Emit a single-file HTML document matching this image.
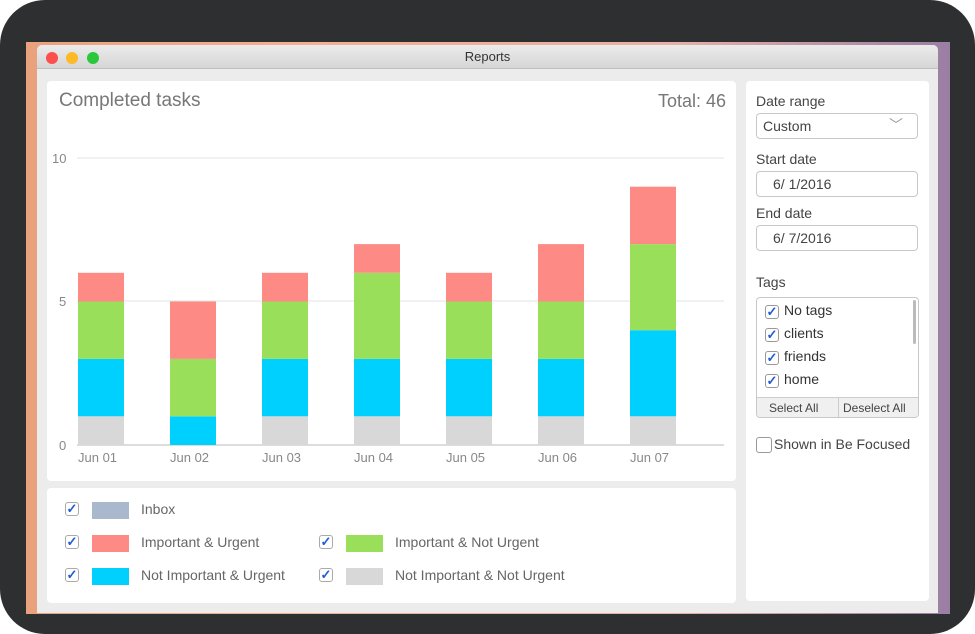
<!DOCTYPE html>
<html><head><style>
*{box-sizing:border-box;margin:0;padding:0}
body{width:975px;height:634px;background:#fff;font-family:"Liberation Sans",sans-serif;position:relative;overflow:hidden}
.bezel{position:absolute;left:0;top:0;width:975px;height:634px;background:#2e2f31;border-radius:45px}
.bg{position:absolute;left:26px;top:42px;width:924px;height:572px;background:linear-gradient(90deg,#e9a27c,#f2b093 30%,#e8b0a8 70%,#9a7ea4)}
.win{position:absolute;left:37px;top:45px;width:901px;height:568px;background:#ececec;border-radius:5px 5px 0 0;overflow:hidden}
.tb{height:24px;background:linear-gradient(#ebebeb,#d6d6d6);border-bottom:1px solid #c0c0c0;text-align:center;font-size:13px;line-height:24px;color:#333}
.dot{position:absolute;top:7px;width:12px;height:12px;border-radius:50%}
.panel{position:absolute;background:#fff;border-radius:4px}
.t{position:absolute;white-space:nowrap}
.cb{position:absolute;width:14px;height:14px;border:1px solid #aaa;border-radius:3px;background:#fff;color:#1f5bd6;font-size:13px;line-height:12px;text-align:center;font-weight:bold}
.field{position:absolute;left:10px;width:162px;height:26px;border:1px solid #c8c8c8;border-radius:4px;background:#fff;font-size:14px;color:#444;line-height:24px;padding-left:6px}
</style></head><body>
<div class="bezel"></div>
<div class="bg"></div>
<div class="win">
<div class="tb">Reports</div>
<div class="dot" style="left:9px;background:#fc4f4c"></div>
<div class="dot" style="left:29px;background:#fdb926"></div>
<div class="dot" style="left:50px;background:#2ac73b"></div>

<div class="panel" style="left:10px;top:36px;width:689px;height:400px">
<div class="t" style="left:12px;top:9px;font-size:19px;color:#777">Completed tasks</div>
<div class="t" style="right:10px;top:10px;font-size:18px;color:#777">Total: 46</div>
<svg width="689" height="400" style="position:absolute;left:0;top:0">
<g stroke="#e3e3e3"><line x1="30" x2="677" y1="77" y2="77"/><line x1="30" x2="677" y1="220" y2="220"/></g>
<line x1="30" x2="677" y1="364" y2="364" stroke="#bbb"/>
<g font-size="13" fill="#888" font-family="Liberation Sans"><text x="5" y="82">10</text><text x="12" y="225">5</text><text x="12" y="369">0</text>
<text x="31" y="381">Jun 01</text><text x="123" y="381">Jun 02</text><text x="215" y="381">Jun 03</text><text x="307" y="381">Jun 04</text><text x="399" y="381">Jun 05</text><text x="491" y="381">Jun 06</text><text x="583" y="381">Jun 07</text></g>
<g id="b"></g>
</svg>
</div>

<div class="panel" style="left:10px;top:443px;width:689px;height:115px">
<div class="cb" style="left:18px;top:14px">✓</div><div style="position:absolute;left:45px;top:14px;width:37px;height:17px;background:#a9b8cd"></div><div class="t" style="left:94px;top:13px;font-size:14px;color:#666">Inbox</div>
<div class="cb" style="left:18px;top:47px">✓</div><div style="position:absolute;left:45px;top:47px;width:37px;height:17px;background:#fe8a86"></div><div class="t" style="left:94px;top:46px;font-size:14px;color:#666">Important &amp; Urgent</div>
<div class="cb" style="left:18px;top:80px">✓</div><div style="position:absolute;left:45px;top:80px;width:37px;height:17px;background:#00d0fe"></div><div class="t" style="left:94px;top:79px;font-size:14px;color:#666">Not Important &amp; Urgent</div>
<div class="cb" style="left:272px;top:47px">✓</div><div style="position:absolute;left:299px;top:47px;width:37px;height:17px;background:#9adf5a"></div><div class="t" style="left:348px;top:46px;font-size:14px;color:#666">Important &amp; Not Urgent</div>
<div class="cb" style="left:272px;top:80px">✓</div><div style="position:absolute;left:299px;top:80px;width:37px;height:17px;background:#d8d8d8"></div><div class="t" style="left:348px;top:79px;font-size:14px;color:#666">Not Important &amp; Not Urgent</div>
</div>

<div class="panel" style="left:709px;top:36px;width:183px;height:520px">
<div class="t" style="left:10px;top:12px;font-size:14px;color:#444">Date range</div>
<div class="field" style="top:32px">Custom<span style="position:absolute;right:14px;top:-1px;color:#999">﹀</span></div>
<div class="t" style="left:10px;top:70px;font-size:14px;color:#444">Start date</div>
<div class="field" style="top:90px;padding-left:16px">6/ 1/2016</div>
<div class="t" style="left:10px;top:124px;font-size:14px;color:#444">End date</div>
<div class="field" style="top:144px;padding-left:16px">6/ 7/2016</div>
<div class="t" style="left:10px;top:193px;font-size:14px;color:#444">Tags</div>
<div style="position:absolute;left:10px;top:216px;width:163px;height:121px;border:1px solid #c8c8c8;border-radius:4px;background:#fff;overflow:hidden">
<div style="position:absolute;right:2px;top:2px;width:3px;height:44px;background:#bbb;border-radius:2px"></div>
<div class="cb" style="left:8px;top:7px;border-color:#999">✓</div><div class="t" style="left:27px;top:4px;font-size:14px;color:#333">No tags</div>
<div class="cb" style="left:8px;top:30px;border-color:#999">✓</div><div class="t" style="left:27px;top:27px;font-size:14px;color:#333">clients</div>
<div class="cb" style="left:8px;top:53px;border-color:#999">✓</div><div class="t" style="left:27px;top:50px;font-size:14px;color:#333">friends</div>
<div class="cb" style="left:8px;top:76px;border-color:#999">✓</div><div class="t" style="left:27px;top:73px;font-size:14px;color:#333">home</div>
<div style="position:absolute;left:0;top:99px;width:163px;height:22px;border-top:1px solid #ccc;background:#f0f0f0;font-size:12px;color:#444;line-height:21px">
<span style="position:absolute;left:12px">Select All</span><span style="position:absolute;left:81px;top:0;height:22px;border-left:1px solid #ccc"></span><span style="position:absolute;left:86px">Deselect All</span></div>
</div>
<div class="cb" style="left:10px;top:356px;width:16px;height:16px;border-color:#999"></div>
<div class="t" style="left:28px;top:355px;font-size:14px;color:#444">Shown in Be Focused</div>
</div>
</div>
<script>
var d=[[1,2,2,1],[0,1,2,2],[1,2,2,1],[1,2,3,1],[1,2,2,1],[1,2,2,2],[1,3,3,2]],c=['#d8d8d8','#00d0fe','#9adf5a','#fe8a86'],u=28.7,s='';
d.forEach(function(r,i){var y=364;r.forEach(function(v,j){if(v){var h=v*u;y-=h;s+='<rect x="'+(31+92*i)+'" y="'+y.toFixed(1)+'" width="46" height="'+h.toFixed(1)+'" fill="'+c[j]+'"/>';}});});
document.getElementById('b').innerHTML=s;
</script>
</body></html>
